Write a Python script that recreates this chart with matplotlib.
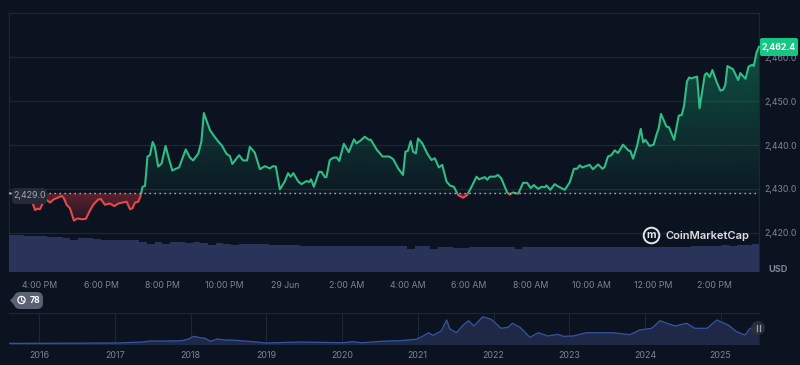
import numpy as np
import matplotlib
matplotlib.use("Agg")
import matplotlib.pyplot as plt
from matplotlib.patches import Rectangle, FancyBboxPatch, Circle

plt.rcParams['font.family'] = ['Inter', 'DejaVu Sans']

# price line: hours after 4:00 PM, USD
hours = [-0.98, -0.65, -0.27, -0.22, -0.16, -0.09, 0, 0.09, 0.22, 0.33, 0.44, 0.54, 0.71, 0.78, 0.87, 0.98,
         1.11, 1.22, 1.36, 1.50, 1.61, 1.74, 1.90, 1.99, 2.12, 2.28, 2.43, 2.56, 2.83, 2.94, 3.02, 3.10,
         3.21, 3.28, 3.35, 3.43, 3.51, 3.59, 3.68, 3.75, 3.86, 3.97, 4.10, 4.19, 4.32, 4.40, 4.54, 4.76,
         4.89, 5.00, 5.17, 5.27, 5.35, 5.55, 5.66, 5.82, 5.93, 6.09, 6.20, 6.28, 6.50, 6.63, 6.76, 6.85,
         7.01, 7.18, 7.34, 7.50, 7.61, 7.70, 7.83, 7.99, 8.10, 8.18, 8.27, 8.43, 8.54, 8.70, 8.79, 8.85,
         8.94, 9.11, 9.19, 9.30, 9.35, 9.46, 9.57, 9.68, 9.77, 9.92, 10.08, 10.25, 10.33, 10.46, 10.60, 10.74,
         10.80, 10.99, 11.18, 11.40, 11.53, 11.69, 11.85, 11.93, 12.01, 12.10, 12.18, 12.27, 12.34, 12.48, 12.64, 12.78,
         12.89, 13.02, 13.13, 13.27, 13.38, 13.51, 13.65, 13.81, 13.94, 14.08, 14.25, 14.33, 14.52, 14.60, 14.68, 14.85,
         14.95, 15.06, 15.25, 15.33, 15.44, 15.61, 15.77, 15.90, 16.02, 16.12, 16.26, 16.37, 16.48, 16.53, 16.66, 16.80,
         16.91, 17.13, 17.29, 17.43, 17.53, 17.62, 17.70, 17.94, 18.05, 18.22, 18.36, 18.43, 18.54, 18.65, 18.76, 18.87,
         19.03, 19.22, 19.27, 19.36, 19.49, 19.61, 19.69, 19.76, 19.90, 20.03, 20.12, 20.20, 20.27, 20.45, 20.53, 20.70,
         20.85, 20.95, 21.02, 21.12, 21.19, 21.26, 21.45, 21.53, 21.70, 21.77, 21.86, 21.95, 22.08, 22.21, 22.30, 22.37,
         22.44, 22.51, 22.62, 22.79, 22.86, 23.03, 23.13, 23.25, 23.30, 23.39, 23.47]
prices = [2429.0, 2428.6, 2427.9, 2426.4, 2425.2, 2425.5, 2425.4, 2426.7, 2427.5, 2426.9, 2427.6, 2427.9, 2428.4, 2427.9, 2426.4, 2425.6,
          2422.8, 2423.3, 2423.1, 2423.2, 2424.8, 2426.4, 2427.6, 2427.7, 2426.4, 2426.7, 2426.1, 2426.7, 2427.1, 2425.4, 2425.6, 2426.9,
          2427.1, 2428.3, 2430.5, 2430.7, 2437.4, 2437.7, 2440.7, 2439.6, 2435.1, 2435.8, 2439.8, 2437.4, 2434.2, 2434.5, 2434.9, 2439.0,
          2437.2, 2436.5, 2438.1, 2440.8, 2447.3, 2443.4, 2442.3, 2440.8, 2440.0, 2438.0, 2437.5, 2435.7, 2437.7, 2436.5, 2436.5, 2439.6,
          2438.3, 2434.5, 2435.2, 2434.7, 2435.2, 2435.1, 2429.9, 2431.7, 2433.6, 2432.8, 2433.6, 2431.7, 2431.1, 2431.8, 2431.6, 2432.2,
          2430.5, 2433.9, 2433.9, 2432.7, 2432.7, 2436.6, 2437.1, 2437.2, 2436.4, 2440.3, 2438.4, 2441.3, 2440.4, 2441.0, 2441.9, 2441.2,
          2441.2, 2439.0, 2437.4, 2437.4, 2436.8, 2434.7, 2433.2, 2438.5, 2438.7, 2440.9, 2438.5, 2438.1, 2441.5, 2440.4, 2438.1, 2436.6,
          2437.0, 2434.9, 2435.5, 2431.7, 2430.8, 2430.5, 2428.6, 2428.0, 2428.6, 2430.4, 2432.8, 2432.2, 2432.7, 2432.1, 2432.8, 2432.8,
          2433.2, 2432.4, 2429.2, 2428.7, 2429.2, 2428.9, 2431.4, 2431.4, 2430.2, 2430.9, 2430.0, 2430.5, 2430.4, 2430.8, 2429.8, 2431.1,
          2430.6, 2429.8, 2431.5, 2434.6, 2434.6, 2435.4, 2434.9, 2435.5, 2434.5, 2435.6, 2434.6, 2435.0, 2437.4, 2437.7, 2438.8, 2438.2,
          2440.1, 2438.7, 2438.7, 2436.9, 2439.8, 2443.7, 2440.6, 2441.2, 2439.8, 2440.1, 2442.3, 2443.9, 2447.1, 2444.2, 2444.1, 2441.2,
          2446.7, 2446.9, 2448.8, 2454.5, 2455.4, 2455.2, 2455.6, 2448.4, 2456.0, 2456.4, 2455.5, 2457.1, 2454.5, 2452.4, 2452.6, 2453.7,
          2458.0, 2457.7, 2457.3, 2454.8, 2456.4, 2455.1, 2457.9, 2458.3, 2458.0, 2461.1, 2462.4]
base_price = 2429.0

# volume, one bar per quarter hour (arbitrary units)
volume = [36.5, 36.2, 35.5, 35.2, 35.2, 34.5, 34.2, 33.8, 32, 33.2, 33.5, 32.2, 31.8, 31.5, 31.2, 31.2, 31.2,
          29.8, 27.5, 29.8, 28, 29.8, 29.5, 28.8, 29.5, 28.8, 26.5, 28.2, 27.5, 26.2, 27.5, 27.2, 27.5, 27.2,
          26.5, 26.5, 26.2, 26.2, 26, 26, 25.8, 25.8, 25.5, 25.5, 25.8, 25.5, 25.5, 25.5, 25.8, 25.5, 25.5, 25.5,
          22.5, 25.2, 25.2, 22.5, 25, 25, 24, 23.5, 25, 25, 25, 25, 25, 25, 23, 25, 25, 25, 25, 24.8,
          25, 25, 24.5, 25, 25, 25, 25, 24.8, 25, 25, 25, 25, 25, 24.5, 24.8, 25, 25, 25.2, 25.5, 25.5,
          26, 26.2, 26, 26.2, 26.5, 27.5]

hour_ticks = [0, 2, 4, 6, 8, 10, 12, 14, 16, 18, 20, 22]
hour_labels = ['4:00 PM', '6:00 PM', '8:00 PM', '10:00 PM', '29 Jun', '2:00 AM',
               '4:00 AM', '6:00 AM', '8:00 AM', '10:00 AM', '12:00 PM', '2:00 PM']
price_ticks = [2420, 2430, 2440, 2450, 2460]
price_labels = ['2,420.0', '2,430.0', '2,440.0', '2,450.0', '2,460.0']

# long range navigator
years = [2015.61, 2017.02, 2017.37, 2017.46, 2017.68, 2017.88, 2017.97, 2018.04, 2018.12, 2018.19, 2018.26, 2018.35,
         2018.45, 2018.60, 2018.87, 2019.0, 2019.44, 2020.01, 2020.14, 2020.26, 2020.59, 2020.76, 2020.98, 2021.07,
         2021.14, 2021.20, 2021.31, 2021.38, 2021.42, 2021.51, 2021.60, 2021.67, 2021.74, 2021.86, 2021.97, 2022.10,
         2022.19, 2022.25, 2022.35, 2022.48, 2022.59, 2022.72, 2022.85, 2022.92, 2023.05, 2023.23, 2023.58, 2023.80,
         2023.93, 2024.09, 2024.20, 2024.29, 2024.40, 2024.55, 2024.66, 2024.82, 2024.95, 2025.10, 2025.21, 2025.32,
         2025.39, 2025.50]
history = [100, 170, 340, 510, 510, 560, 850, 1310, 1070, 970, 460, 850,
           680, 630, 340, 170, 340, 220, 390, 220, 510, 560, 800, 1360,
           1920, 1480, 2210, 4080, 2600, 1920, 3230, 3960, 3060, 4640, 4200, 2670,
           2840, 3520, 2840, 1140, 1920, 1360, 1650, 1310, 1360, 1920, 1920, 1580,
           2380, 2670, 3960, 3520, 3060, 3520, 2670, 2670, 4080, 3230, 2090, 1530,
           2670, 2670]
year_ticks = [2016, 2017, 2018, 2019, 2020, 2021, 2022, 2023, 2024, 2025]

BG = '#0c1320'
GRID = '#1f2633'
TXT = '#7d8394'
GREEN = '#2fbd85'
RED = '#e5484d'


def px_axes(fig, left, top, right, bottom, **kw):
    return fig.add_axes([left / 800, 1 - bottom / 365, (right - left) / 800, (bottom - top) / 365], **kw)


fig = plt.figure(figsize=(8, 3.65), dpi=100, facecolor=BG)

# main price chart
ax = px_axes(fig, 9, 13, 759, 271.5, facecolor=BG)
ax.set_xlim(-1.01, 23.47)
ax.set_ylim(2411.2, 2470.09)
ax.set_yticks(price_ticks)
ax.set_yticklabels(price_labels)
ax.yaxis.tick_right()
ax.set_xticks(hour_ticks)
ax.set_xticklabels(hour_labels)
ax.tick_params(length=0, labelsize=6.3, labelcolor=TXT)
ax.tick_params(axis='x', pad=7)
ax.tick_params(axis='y', pad=4)
ax.grid(axis='y', color=GRID, lw=0.9)
ax.set_axisbelow(True)
for side in ax.spines:
    ax.spines[side].set_color(GRID)
    ax.spines[side].set_linewidth(0.9)
ax.spines['bottom'].set_visible(False)

# gradient under the line, green above the base price and red below it
ys = np.linspace(2462.4, 2422.5, 200)
grad = np.zeros((200, 1, 4))
above = ys >= base_price
grad[above, 0, :3] = matplotlib.colors.to_rgb('#16c784')
grad[above, 0, 3] = 0.04 + 0.30 * (ys[above] - base_price) / (2462.4 - base_price)
grad[~above, 0, :3] = matplotlib.colors.to_rgb('#ea3943')
grad[~above, 0, 3] = 0.38 - 0.30 * (base_price - ys[~above]) / (base_price - 2422.5)
im = ax.imshow(grad, extent=[-1.01, 23.47, 2422.5, 2462.4], aspect='auto', zorder=2, interpolation='bilinear')
ax.set_xlim(-1.01, 23.47)
ax.set_ylim(2411.2, 2470.09)
poly = ax.fill_between(hours, prices, base_price, color='none')
im.set_clip_path(poly.get_paths()[0], transform=ax.transData)

up, = ax.plot(hours, prices, color=GREEN, lw=1.5, zorder=3)
down, = ax.plot(hours, prices, color=RED, lw=1.5, zorder=3)
up.set_clip_path(Rectangle((-2, base_price), 30, 60, transform=ax.transData))
down.set_clip_path(Rectangle((-2, 2400), 30, base_price - 2400, transform=ax.transData))
ax.axhline(base_price, color='#b9bdc8', lw=1, ls=(0, (1, 2.6)), zorder=4)

# volume bars at the foot of the chart
vol_ax = px_axes(fig, 9, 235, 759, 271.5)
vol_ax.patch.set_alpha(0)
vol_ax.set_xlim(-1.01, 23.47)
vol_ax.set_ylim(0, 36.5)
vol_ax.bar(-1.01 + 0.25 * np.arange(len(volume)), volume, width=0.25, align='edge', color='#2a3359')
vol_ax.axis('off')

# navigator
nav = px_axes(fig, 9, 313, 759, 344, facecolor=BG)
nav.set_xlim(2015.6, 2025.507)
nav.set_ylim(0, 5270)
nav.fill_between(years, history, 0, color='#1f2947', zorder=2)
nav.plot(years, history, color='#3653a0', lw=0.9, zorder=3)
nav.set_xticks(year_ticks)
nav.set_xticklabels([str(y) for y in year_ticks])
nav.set_yticks([])
nav.tick_params(length=0, labelsize=6.4, labelcolor=TXT, pad=5)
nav.grid(axis='x', color=GRID, lw=0.8)
nav.set_axisbelow(True)
for side in ['left', 'right', 'bottom']:
    nav.spines[side].set_visible(False)
nav.spines['top'].set_color(GRID)
nav.spines['top'].set_linewidth(0.8)

# overlay in pixel coordinates for labels and badges
top = fig.add_axes([0, 0, 1, 1], zorder=10)
top.set_xlim(0, 800)
top.set_ylim(365, 0)
top.axis('off')

top.add_patch(FancyBboxPatch((12, 188), 35, 16, boxstyle='round,pad=0,rounding_size=4',
                             fc='#252a36', ec='none'))
top.text(29.5, 195.8, '2,429.0', color='#a0a5b2', fontsize=6.4, ha='center', va='center')

top.add_patch(FancyBboxPatch((760, 38), 38, 18, boxstyle='round,pad=0,rounding_size=2',
                             fc='#16c784', ec='none'))
top.text(779, 47, '2,462.4', color='white', fontsize=6.3, fontweight='bold', ha='center', va='center')

top.text(778, 269.5, 'USD', color=TXT, fontsize=6.6, fontweight='bold', ha='center', va='center')

# watermark
top.add_patch(Circle((651.5, 235.5), 7.8, fc='none', ec='#e6e7ec', lw=1.4))
top.text(651.5, 235, 'm', color='#e6e7ec', fontsize=7.5, fontweight='bold', ha='center', va='center')
top.text(666, 236, 'CoinMarketCap', color='#dcdde3', fontsize=8, fontweight='semibold', ha='left', va='center')

# history badge
top.add_patch(FancyBboxPatch((14, 292), 29, 17, boxstyle='round,pad=0,rounding_size=6',
                             fc='#5b6173', ec='none'))
top.fill([11, 15, 15], [300.5, 296, 305], color='#5b6173')
top.add_patch(Circle((21.5, 300), 3.6, fc='none', ec='white', lw=0.9))
top.plot([21.5, 21.5, 23.5], [298, 300.3, 301.3], color='white', lw=0.7)
top.text(34.5, 300.3, '78', color='white', fontsize=6.2, fontweight='bold', ha='center', va='center')

# pause handle on the navigator
top.add_patch(Circle((758, 328), 7, fc='#2b303c', ec='none', alpha=0.9))
top.plot([757, 757], [325, 331], color='#9ea3b0', lw=0.9)
top.plot([759.5, 759.5], [325, 331], color='#9ea3b0', lw=0.9)

fig.savefig('out.png', dpi=100, facecolor=BG)
